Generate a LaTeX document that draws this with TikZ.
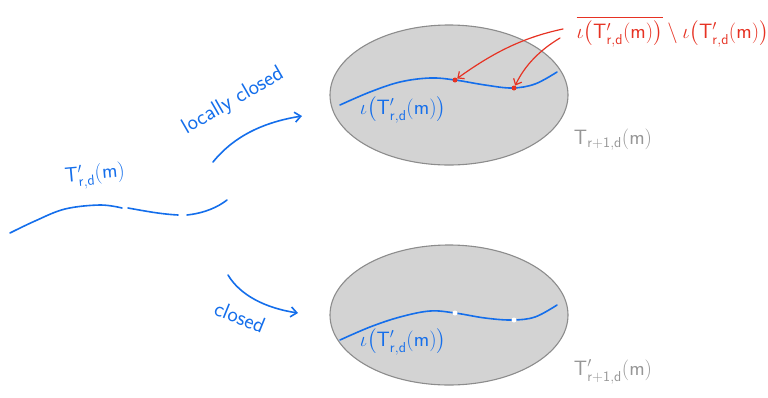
\documentclass[tikz,border=0pt]{standalone}
\usepackage{amsmath}
\usetikzlibrary{arrows.meta,shapes.geometric}
\definecolor{hblue}{RGB}{20,110,235}
\definecolor{hred}{RGB}{230,50,35}
\definecolor{egray}{RGB}{211,211,211}
\definecolor{edge}{RGB}{140,140,140}
\definecolor{lgray}{RGB}{150,150,150}
\newcommand{\Tp}{\mathsf{T}'_{\mathsf{r,d}}(\mathsf{m})}
\tikzset{
  blob/.style={draw=edge, fill=egray, line width=1.1pt},
  bcurve/.style={draw=hblue, line width=1.6pt, line cap=round},
  barrow/.style={draw=hblue, line width=1.6pt, line cap=round, -{Straight Barb[length=6pt,width=10pt]}},
  rarrow/.style={draw=hred, line width=1.2pt, line cap=round, -{Straight Barb[length=5pt,width=9pt]}},
  btext/.style={text=hblue, font=\fontsize{20}{24}\selectfont},
  gtext/.style={text=lgray, font=\fontsize{21}{25}\selectfont},
  rdot/.style={circle, fill=hred, inner sep=0pt, minimum size=5pt},
  wdot/.style={circle, fill=white, inner sep=0pt, minimum size=5pt},
}
\begin{document}
\begin{tikzpicture}[x=1pt,y=-1pt]
\useasboundingbox (0,0) rectangle (768,397);
% ellipses
\node[blob, ellipse, minimum width=238pt, minimum height=140pt] (top) at (449,95) {};
\node[blob, ellipse, minimum width=238pt, minimum height=140pt] (bot) at (449,315) {};
% top curve
\draw[bcurve] plot[smooth, tension=0.6] coordinates {(340,105) (370,92) (400,82) (430,78) (455,80) (485,85) (512,88) (535,84) (557,72)};
\node[rdot] (d1) at (455,80) {};
\node[rdot] (d2) at (514,88) {};
\node[btext] (il1) at (403,110) {$\iota\big(\Tp\big)$};
% bottom curve
\draw[bcurve] plot[smooth, tension=0.6] coordinates {(340,340) (370,327) (400,317) (430,311) (455,313) (485,318) (512,320) (535,317) (557,305)};
\node[wdot] (w1) at (455,313) {};
\node[wdot] (w2) at (514,320) {};
\node[btext] (il2) at (403,342) {$\iota\big(\Tp\big)$};
% red label
\node[text=hred, font=\fontsize{20}{24}\selectfont, anchor=west] (red) at (573,32) {$\overline{\iota\big(\Tp\big)}\setminus\iota\big(\Tp\big)$};
\coordinate (r1) at (563,29);
\coordinate (r2) at (560,38);
\draw[rarrow] (r1) .. controls (520,38) and (490,55) .. (d1);
\draw[rarrow] (r2) .. controls (540,50) and (525,65) .. (d2);
% gray labels
\node[gtext] (T1) at (613,140) {$\mathsf{T}_{\mathsf{r+1,d}}(\mathsf{m})$};
\node[gtext] (T2) at (613,372) {$\mathsf{T}'_{\mathsf{r+1,d}}(\mathsf{m})$};
% left curve
\draw[bcurve] plot[smooth, tension=0.6] coordinates {(10,233) (35,221) (65,209) (100,205) (122,208)};
\draw[bcurve] (128,208) .. controls (145,211) and (160,214) .. (178,215);
\draw[bcurve] (187,215) .. controls (205,213) and (218,207) .. (227,200);
\node[btext, rotate=5] (T0) at (95,176) {$\Tp$};
% arrows
\coordinate (a1s) at (213,162);
\coordinate (a1e) at (302,116);
\draw[barrow] (a1s) .. controls (235,135) and (265,122) .. (a1e);
\coordinate (a2s) at (228,275);
\coordinate (a2e) at (298,313);
\draw[barrow] (a2s) .. controls (240,295) and (265,308) .. (a2e);
\node[text=hblue, rotate=30, font=\fontsize{22}{26}\selectfont\sffamily] (lc) at (233,101) {locally closed};
\node[text=hblue, rotate=-22, font=\fontsize{22}{26}\selectfont\sffamily] (cl) at (240,317) {closed};
\end{tikzpicture}
\end{document}
